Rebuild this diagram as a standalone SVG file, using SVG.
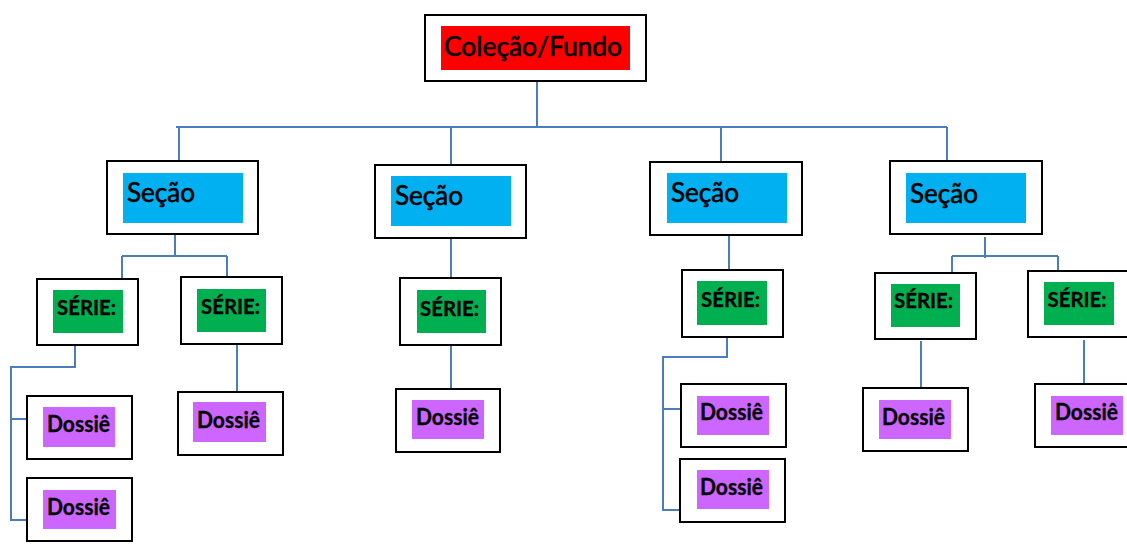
<svg xmlns="http://www.w3.org/2000/svg" width="1127" height="549" viewBox="0 0 1127 549">
<style>
.box{fill:#fff;stroke:#000;stroke-width:2}
.red{fill:#ff0000}
.blue{fill:#00b0f0}
.green{fill:#00b050}
.purple{fill:#cc66ff}
.t{font-family:Lato,"Liberation Sans",Arial,sans-serif;fill:#000}
.big{font-size:26px;stroke:#000;stroke-width:0.6}
.sec{font-size:27px;stroke:#000;stroke-width:0.6}
.ser{font-size:21px;font-weight:bold;stroke:#000;stroke-width:0.3}
.dos{font-size:22px;font-weight:bold;stroke:#000;stroke-width:0.3}
.conn{fill:none;stroke:#4a7ebb;stroke-width:2}
</style>
<rect width="1127" height="549" fill="#fff"/>
<g id="connectors" class="conn">
<path d="M537 81V127M176 127H947M179 127V161M451 127V165M721 127V162M947 127V161"/>
<path d="M175 234V256M122 256H227M122 256V279M227 256V277"/>
<path d="M75 345V367H11V520H27M11 419H27"/>
<path d="M237 344V392"/>
<path d="M451 238V278M451 345V389"/>
<path d="M729 235V270M727 337V357H663V510H680M663 409H681"/>
<path d="M985 237V258M952 256H1058M952 256V273M1058 256V271"/>
<path d="M921 341V388M1084 340V384"/>
</g>
<g id="colecao">
<rect class="box" x="425" y="15" width="221" height="66"/>
<rect class="red" x="441" y="26" width="189" height="44"/>
<text class="t big" x="444" y="56" textLength="178" lengthAdjust="spacingAndGlyphs">Coleção/Fundo</text>
</g>
<g id="secao1">
<rect class="box" x="107" y="161" width="151" height="73"/>
<rect class="blue" x="123" y="173" width="120" height="50"/>
<text class="t sec" x="127" y="202" textLength="68" lengthAdjust="spacingAndGlyphs">Seção</text>
</g>
<g id="secao2">
<rect class="box" x="375" y="165" width="151" height="73"/>
<rect class="blue" x="391" y="176" width="120" height="50"/>
<text class="t sec" x="395" y="205" textLength="68" lengthAdjust="spacingAndGlyphs">Seção</text>
</g>
<g id="secao3">
<rect class="box" x="650" y="162" width="152" height="73"/>
<rect class="blue" x="667" y="173" width="120" height="50"/>
<text class="t sec" x="671" y="202" textLength="68" lengthAdjust="spacingAndGlyphs">Seção</text>
</g>
<g id="secao4">
<rect class="box" x="890" y="161" width="152" height="73"/>
<rect class="blue" x="906" y="173" width="120" height="50"/>
<text class="t sec" x="910" y="203" textLength="68" lengthAdjust="spacingAndGlyphs">Seção</text>
</g>
<g id="serie1">
<rect class="box" x="37" y="279" width="101" height="66"/>
<rect class="green" x="53" y="290" width="70" height="43"/>
<text class="t ser" x="57" y="314.5" textLength="59" lengthAdjust="spacingAndGlyphs">SÉRIE:</text>
</g>
<g id="serie2">
<rect class="box" x="181" y="277" width="101" height="67"/>
<rect class="green" x="197" y="289" width="69" height="43"/>
<text class="t ser" x="201" y="314" textLength="59" lengthAdjust="spacingAndGlyphs">SÉRIE:</text>
</g>
<g id="serie3">
<rect class="box" x="400" y="278" width="101" height="67"/>
<rect class="green" x="417" y="290" width="69" height="43"/>
<text class="t ser" x="420" y="316" textLength="59" lengthAdjust="spacingAndGlyphs">SÉRIE:</text>
</g>
<g id="serie4">
<rect class="box" x="682" y="270" width="101" height="67"/>
<rect class="green" x="697" y="281" width="70" height="44"/>
<text class="t ser" x="701" y="307" textLength="59" lengthAdjust="spacingAndGlyphs">SÉRIE:</text>
</g>
<g id="serie5">
<rect class="box" x="875" y="273" width="101" height="66"/>
<rect class="green" x="891" y="284" width="69" height="43"/>
<text class="t ser" x="894" y="308" textLength="59" lengthAdjust="spacingAndGlyphs">SÉRIE:</text>
</g>
<g id="serie6">
<rect class="box" x="1028" y="271" width="110" height="66"/>
<rect class="green" x="1044" y="282" width="70" height="43"/>
<text class="t ser" x="1047.5" y="306.7" textLength="59" lengthAdjust="spacingAndGlyphs">SÉRIE:</text>
</g>
<g id="dossie1">
<rect class="box" x="27" y="396" width="105" height="63"/>
<rect class="purple" x="43" y="407" width="72" height="40"/>
<text class="t dos" x="47" y="432" textLength="63" lengthAdjust="spacingAndGlyphs">Dossiê</text>
</g>
<g id="dossie2">
<rect class="box" x="27" y="478" width="105" height="63"/>
<rect class="purple" x="43" y="490" width="73" height="39"/>
<text class="t dos" x="47" y="514.5" textLength="63" lengthAdjust="spacingAndGlyphs">Dossiê</text>
</g>
<g id="dossie3">
<rect class="box" x="178" y="392" width="105" height="63"/>
<rect class="purple" x="193" y="402" width="73" height="40"/>
<text class="t dos" x="197" y="427.5" textLength="63" lengthAdjust="spacingAndGlyphs">Dossiê</text>
</g>
<g id="dossie4">
<rect class="box" x="396" y="389" width="104" height="63"/>
<rect class="purple" x="412" y="400" width="72" height="39"/>
<text class="t dos" x="416" y="425" textLength="63" lengthAdjust="spacingAndGlyphs">Dossiê</text>
</g>
<g id="dossie5">
<rect class="box" x="681" y="384" width="105" height="63"/>
<rect class="purple" x="697" y="396" width="72" height="39"/>
<text class="t dos" x="700" y="420" textLength="63" lengthAdjust="spacingAndGlyphs">Dossiê</text>
</g>
<g id="dossie6">
<rect class="box" x="680" y="459" width="105" height="63"/>
<rect class="purple" x="697" y="470" width="72" height="39"/>
<text class="t dos" x="700" y="495" textLength="63" lengthAdjust="spacingAndGlyphs">Dossiê</text>
</g>
<g id="dossie7">
<rect class="box" x="863" y="388" width="105" height="63"/>
<rect class="purple" x="879" y="400" width="72" height="39"/>
<text class="t dos" x="882" y="425" textLength="63" lengthAdjust="spacingAndGlyphs">Dossiê</text>
</g>
<g id="dossie8">
<rect class="box" x="1035" y="384" width="110" height="63"/>
<rect class="purple" x="1051" y="396" width="72" height="39"/>
<text class="t dos" x="1055" y="420" textLength="63" lengthAdjust="spacingAndGlyphs">Dossiê</text>
</g>
</svg>
